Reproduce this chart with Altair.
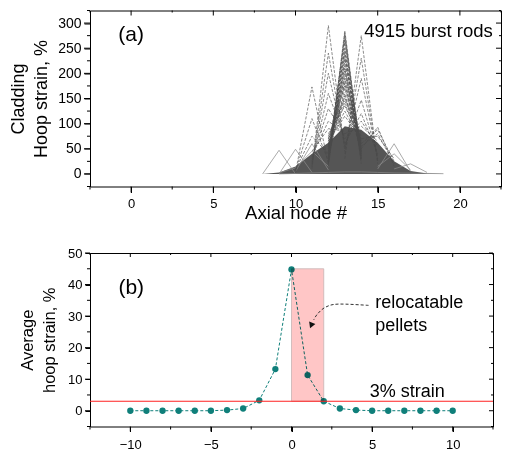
import altair as alt
import pandas as pd

_ = None

# ---------------- panel (a) data ----------------
nodes_a = [8, 9, 10, 11, 12, 13, 14, 15, 16, 17, 18, 19]
core_a = [0, 3, 15, 40, 62, 95, 88, 62, 25, 6, 1, 0]
profiles_a = [
    [0, 47, 0, _, _, _, _, _, _, _, _, _],
    [_, 0, 49, 3, _, _, _, _, _, _, _, _],
    [_, _, 5, 60, 8, _, _, _, _, _, _, _],
    [_, 2, 12, 45, 15, _, _, _, _, _, _, _],
    [_, _, 6, 110, 25, _, _, _, _, _, _, _],
    [_, _, 3, 173, 20, _, _, _, _, _, _, _],
    [_, _, 8, 75, 40, _, _, _, _, _, _, _],
    [_, _, _, 10, 295, 45, _, _, _, _, _, _],
    [_, _, _, 15, 240, 55, _, _, _, _, _, _],
    [_, _, _, 20, 200, 60, _, _, _, _, _, _],
    [_, _, _, 25, 160, 70, _, _, _, _, _, _],
    [_, _, _, 30, 130, 75, _, _, _, _, _, _],
    [_, _, _, 35, 105, 80, _, _, _, _, _, _],
    [_, _, _, 45, 90, 85, _, _, _, _, _, _],
    [_, _, _, _, 20, 285, 30, _, _, _, _, _],
    [_, _, _, _, 30, 275, 20, _, _, _, _, _],
    [_, _, _, _, 15, 262, 40, _, _, _, _, _],
    [_, _, _, _, 25, 250, 35, _, _, _, _, _],
    [_, _, _, _, 35, 238, 25, _, _, _, _, _],
    [_, _, _, _, 20, 225, 45, _, _, _, _, _],
    [_, _, _, _, 40, 210, 30, _, _, _, _, _],
    [_, _, _, _, 30, 198, 50, _, _, _, _, _],
    [_, _, _, _, 45, 185, 40, _, _, _, _, _],
    [_, _, _, _, 35, 170, 55, _, _, _, _, _],
    [_, _, _, _, 50, 155, 45, _, _, _, _, _],
    [_, _, _, _, 55, 140, 60, _, _, _, _, _],
    [_, _, _, _, 60, 125, 65, _, _, _, _, _],
    [_, _, _, _, 65, 115, 70, _, _, _, _, _],
    [_, _, _, _, 45, 205, 55, _, _, _, _, _],
    [_, _, _, _, 55, 180, 60, _, _, _, _, _],
    [_, _, _, _, 60, 160, 50, _, _, _, _, _],
    [_, _, _, _, 70, 145, 75, _, _, _, _, _],
    [_, _, _, _, 25, 280, 35, _, _, _, _, _],
    [_, _, _, _, 40, 268, 45, _, _, _, _, _],
    [_, _, _, _, 50, 245, 30, _, _, _, _, _],
    [_, _, _, _, 30, 230, 60, _, _, _, _, _],
    [_, _, _, _, 55, 215, 40, _, _, _, _, _],
    [_, _, _, _, 65, 190, 65, _, _, _, _, _],
    [_, _, _, _, 70, 175, 50, _, _, _, _, _],
    [_, _, _, _, 75, 150, 80, _, _, _, _, _],
    [_, _, _, _, 80, 135, 70, _, _, _, _, _],
    [_, _, _, _, _, 30, 275, 20, _, _, _, _],
    [_, _, _, _, _, 40, 230, 25, _, _, _, _],
    [_, _, _, _, _, 50, 190, 30, _, _, _, _],
    [_, _, _, _, _, 55, 147, 35, _, _, _, _],
    [_, _, _, _, _, 60, 120, 40, _, _, _, _],
    [_, _, _, _, _, 70, 105, 55, _, _, _, _],
    [_, _, _, _, _, 80, 95, 65, _, _, _, _],
    [_, _, _, _, _, _, 50, 93, 15, _, _, _],
    [_, _, _, _, _, _, 55, 80, 20, _, _, _],
    [_, _, _, _, _, _, 60, 88, 25, _, _, _],
    [_, _, _, _, _, _, 70, 75, 30, _, _, _],
    [_, _, _, _, _, _, _, 10, 60, 5, _, _],
    [_, _, _, _, _, _, _, 15, 40, 8, _, _],
    [_, _, _, _, _, _, _, _, 10, 20, 3, _],
    [_, 0, 1, 2, 3, 4, 4, 3, 2, 1.5, 1, 0.5],
]
styles_a = (["solid"] * 4) + (["dash"] * 48) + (["solid"] * 4)

rows = []
for rid, (prof, sty) in enumerate(zip(profiles_a, styles_a)):
    for n, v in zip(nodes_a, prof):
        if v is not None:
            rows.append({"rod": rid, "node": n, "strain": v, "style": sty})
df_lines = pd.DataFrame(rows)
df_core = pd.DataFrame({"node": nodes_a, "strain": core_a})

# ---------------- panel (b) data ----------------
nodes_b = list(range(-10, 11))
strain_b = [0, 0, 0, 0, 0, 0, 0.2, 0.7, 3.3, 13.2, 44.8, 11.3, 3.0, 0.7, 0.2, 0, 0, 0, 0, 0, 0]
reloc_x = [0, 2]
reloc_y = [3, 45]
threshold = 3
arrow_x = [4.78, 2.9, 2.1, 1.6, 1.38]
arrow_y = [33.4, 33.8, 32.8, 30.6, 28.8]
head_x = [1.22]
head_y = [27.0]

df_b = pd.DataFrame({"node": nodes_b, "strain": strain_b})
df_rect = pd.DataFrame({"x": [reloc_x[0]], "x2": [reloc_x[1]], "y": [reloc_y[0]], "y2": [reloc_y[1]]})
df_thr = pd.DataFrame({"y": [threshold]})
df_arrow = pd.DataFrame({"x": arrow_x, "y": arrow_y, "i": list(range(len(arrow_x)))})
df_head = pd.DataFrame({"x": head_x, "y": head_y})

FONT = "Liberation Sans"
BASE = dict(domain=False, grid=False, ticks=True, tickColor="black",
            labelColor="black", titleColor="black", titleFontWeight="normal", tickWidth=1)


def tick_layers(xs, ys, xmaj, xmin, ymaj, ymin, w, h, big):
    out = []
    for vals, ln in ((xmaj, big), (xmin, 3)):
        d = pd.DataFrame({"v": vals})
        out.append(alt.Chart(d).mark_rule(color="black", strokeWidth=1).encode(
            x=alt.X("v:Q", scale=xs, axis=None), y=alt.value(h), y2=alt.value(h + ln)))
        out.append(alt.Chart(d).mark_rule(color="black", strokeWidth=1).encode(
            x=alt.X("v:Q", scale=xs, axis=None), y=alt.value(0), y2=alt.value(ln - 1)))
    for vals, ln in ((ymaj, big), (ymin, 3)):
        d = pd.DataFrame({"v": vals})
        out.append(alt.Chart(d).mark_rule(color="black", strokeWidth=1).encode(
            y=alt.Y("v:Q", scale=ys, axis=None), x=alt.value(0), x2=alt.value(-ln)))
        out.append(alt.Chart(d).mark_rule(color="black", strokeWidth=1).encode(
            y=alt.Y("v:Q", scale=ys, axis=None), x=alt.value(w), x2=alt.value(w - ln + 1)))
    return out


# ---------------- panel (a) ----------------
WA, HA = 411, 176
xs_a = alt.Scale(domain=[-2.5, 22.5], nice=False, zero=False)
ys_a = alt.Scale(domain=[-25, 325], nice=False, zero=False)
xmaj_a = [0, 5, 10, 15, 20]
xmin_a = [-2.5, 2.5, 7.5, 12.5, 17.5, 22.5]
ymaj_a = [0, 50, 100, 150, 200, 250, 300]
ymin_a = [-25, 25, 75, 125, 175, 225, 275, 325]

xa_main = alt.Axis(orient="bottom", values=xmaj_a, tickSize=6, labelFontSize=13,
                   labelPadding=5, title="Axial node #", titleFontSize=18.5,
                   titlePadding=-7, **BASE)
ya_main = alt.Axis(orient="left", values=ymaj_a, tickSize=6, labelFontSize=14,
                   labelPadding=3, title=["Cladding", "Hoop strain, %"],
                   titleFontSize=18, titleLineHeight=23, titlePadding=7.4, **BASE)

axes_a = alt.Chart(df_core).mark_point(opacity=0).encode(
    x=alt.X("node:Q", scale=xs_a, axis=xa_main),
    y=alt.Y("strain:Q", scale=ys_a, axis=ya_main))

core = alt.Chart(df_core).mark_area(color="#505050", opacity=0.97, interpolate="linear").encode(
    x=alt.X("node:Q", scale=xs_a, axis=None),
    y=alt.Y("strain:Q", scale=ys_a, axis=None))

dash_lines = alt.Chart(df_lines).transform_filter(alt.datum.style == "dash").mark_line(
    color="#4a4a4a", strokeWidth=0.8, strokeDash=[3, 1.5], opacity=0.8).encode(
    x=alt.X("node:Q", scale=xs_a, axis=None),
    y=alt.Y("strain:Q", scale=ys_a, axis=None),
    detail="rod:N")

solid_lines = alt.Chart(df_lines).transform_filter(alt.datum.style == "solid").mark_line(
    color="#8a8a8a", strokeWidth=0.8, opacity=0.9).encode(
    x=alt.X("node:Q", scale=xs_a, axis=None),
    y=alt.Y("strain:Q", scale=ys_a, axis=None),
    detail="rod:N")

lab_a = alt.Chart(pd.DataFrame({"x": [0], "y": [277], "t": ["(a)"]})).mark_text(
    fontSize=21, align="center", baseline="middle", color="black").encode(
    x=alt.X("x:Q", scale=xs_a, axis=None), y=alt.Y("y:Q", scale=ys_a, axis=None), text="t:N")

rods_a = alt.Chart(pd.DataFrame({"x": [22.0], "y": [284], "t": ["4915 burst rods"]})).mark_text(
    fontSize=18.5, align="right", baseline="middle", color="black").encode(
    x=alt.X("x:Q", scale=xs_a, axis=None), y=alt.Y("y:Q", scale=ys_a, axis=None), text="t:N")

ticks_a = tick_layers(xs_a, ys_a, xmaj_a, xmin_a, ymaj_a, ymin_a, WA, HA, 6)

panel_a = alt.layer(axes_a, core, solid_lines, dash_lines, lab_a, rods_a, *ticks_a).resolve_axis(
    x="independent", y="independent").properties(width=WA, height=HA)

# ---------------- panel (b) ----------------
WB, HB = 403, 173.5
xs_b = alt.Scale(domain=[-12.5, 12.5], nice=False, zero=False)
ys_b = alt.Scale(domain=[-5, 50], nice=False, zero=False)
xmaj_b = [-10, -5, 0, 5, 10]
xmin_b = [-12.5, -7.5, -2.5, 2.5, 7.5, 12.5]
ymaj_b = [0, 10, 20, 30, 40, 50]
ymin_b = [-5, 5, 15, 25, 35, 45]

xb_main = alt.Axis(orient="bottom", values=xmaj_b, tickSize=5, labelFontSize=13,
                   labelPadding=7, title="Node from burst center", titleFontSize=17.5,
                   titlePadding=-4, **BASE)
yb_main = alt.Axis(orient="left", values=ymaj_b, tickSize=5, labelFontSize=13,
                   labelPadding=3, title=["Average", "hoop strain, %"],
                   titleFontSize=16.5, titleLineHeight=22.5, titlePadding=10, **BASE)

axes_b = alt.Chart(df_b).mark_point(opacity=0).encode(
    x=alt.X("node:Q", scale=xs_b, axis=xb_main),
    y=alt.Y("strain:Q", scale=ys_b, axis=yb_main))

TEAL = "#0f7f7a"
line_b = alt.Chart(df_b).mark_line(color=TEAL, strokeWidth=1, strokeDash=[3, 2]).encode(
    x=alt.X("node:Q", scale=xs_b, axis=None), y=alt.Y("strain:Q", scale=ys_b, axis=None))
pts_b = alt.Chart(df_b).mark_circle(color=TEAL, size=40, opacity=1).encode(
    x=alt.X("node:Q", scale=xs_b, axis=None), y=alt.Y("strain:Q", scale=ys_b, axis=None))

rect_b = alt.Chart(df_rect).mark_rect(color="#ffc6c6", stroke="#c8b4b4", strokeWidth=0.8,
                                      blend="multiply").encode(
    x=alt.X("x:Q", scale=xs_b, axis=None), x2="x2:Q",
    y=alt.Y("y:Q", scale=ys_b, axis=None), y2="y2:Q")

thr_b = alt.Chart(df_thr).mark_rule(color="#ff2020", strokeWidth=1.2).encode(
    y=alt.Y("y:Q", scale=ys_b, axis=None))

arrow_b = alt.Chart(df_arrow).mark_line(color="#333333", strokeWidth=1, strokeDash=[3, 2],
                                        interpolate="cardinal").encode(
    x=alt.X("x:Q", scale=xs_b, axis=None), y=alt.Y("y:Q", scale=ys_b, axis=None),
    order="i:Q")
head_b = alt.Chart(df_head).mark_point(shape="triangle-down", filled=True, color="#111111",
                                       size=45, angle=22, opacity=1).encode(
    x=alt.X("x:Q", scale=xs_b, axis=None), y=alt.Y("y:Q", scale=ys_b, axis=None))

ann_b = pd.DataFrame({
    "x": [-9.94, 5.2, 5.2, 4.85],
    "y": [38.9, 34.1, 27.0, 6.0],
    "t": ["(b)", "relocatable", "pellets", "3% strain"],
})
txt_b1 = alt.Chart(ann_b.iloc[[0]]).mark_text(fontSize=21, align="center", baseline="middle",
                                              color="black").encode(
    x=alt.X("x:Q", scale=xs_b, axis=None), y=alt.Y("y:Q", scale=ys_b, axis=None), text="t:N")
txt_b2 = alt.Chart(ann_b.iloc[1:]).mark_text(fontSize=18, align="left", baseline="middle",
                                            color="black").encode(
    x=alt.X("x:Q", scale=xs_b, axis=None), y=alt.Y("y:Q", scale=ys_b, axis=None), text="t:N")

ticks_b = tick_layers(xs_b, ys_b, xmaj_b, xmin_b, ymaj_b, ymin_b, WB, HB, 5)

panel_b = alt.layer(axes_b, line_b, pts_b, rect_b, thr_b, arrow_b, head_b, txt_b1, txt_b2,
                    *ticks_b).resolve_axis(x="independent", y="independent").properties(
    width=WB, height=HB)

chart = alt.vconcat(panel_a, panel_b, spacing=23.5).properties(
    padding={"left": 0, "top": 1.5, "right": 0, "bottom": -17}
).configure(font=FONT).configure_view(stroke="black", strokeWidth=1)

chart.save("out.html", embed_options={"renderer": "svg", "actions": False})
